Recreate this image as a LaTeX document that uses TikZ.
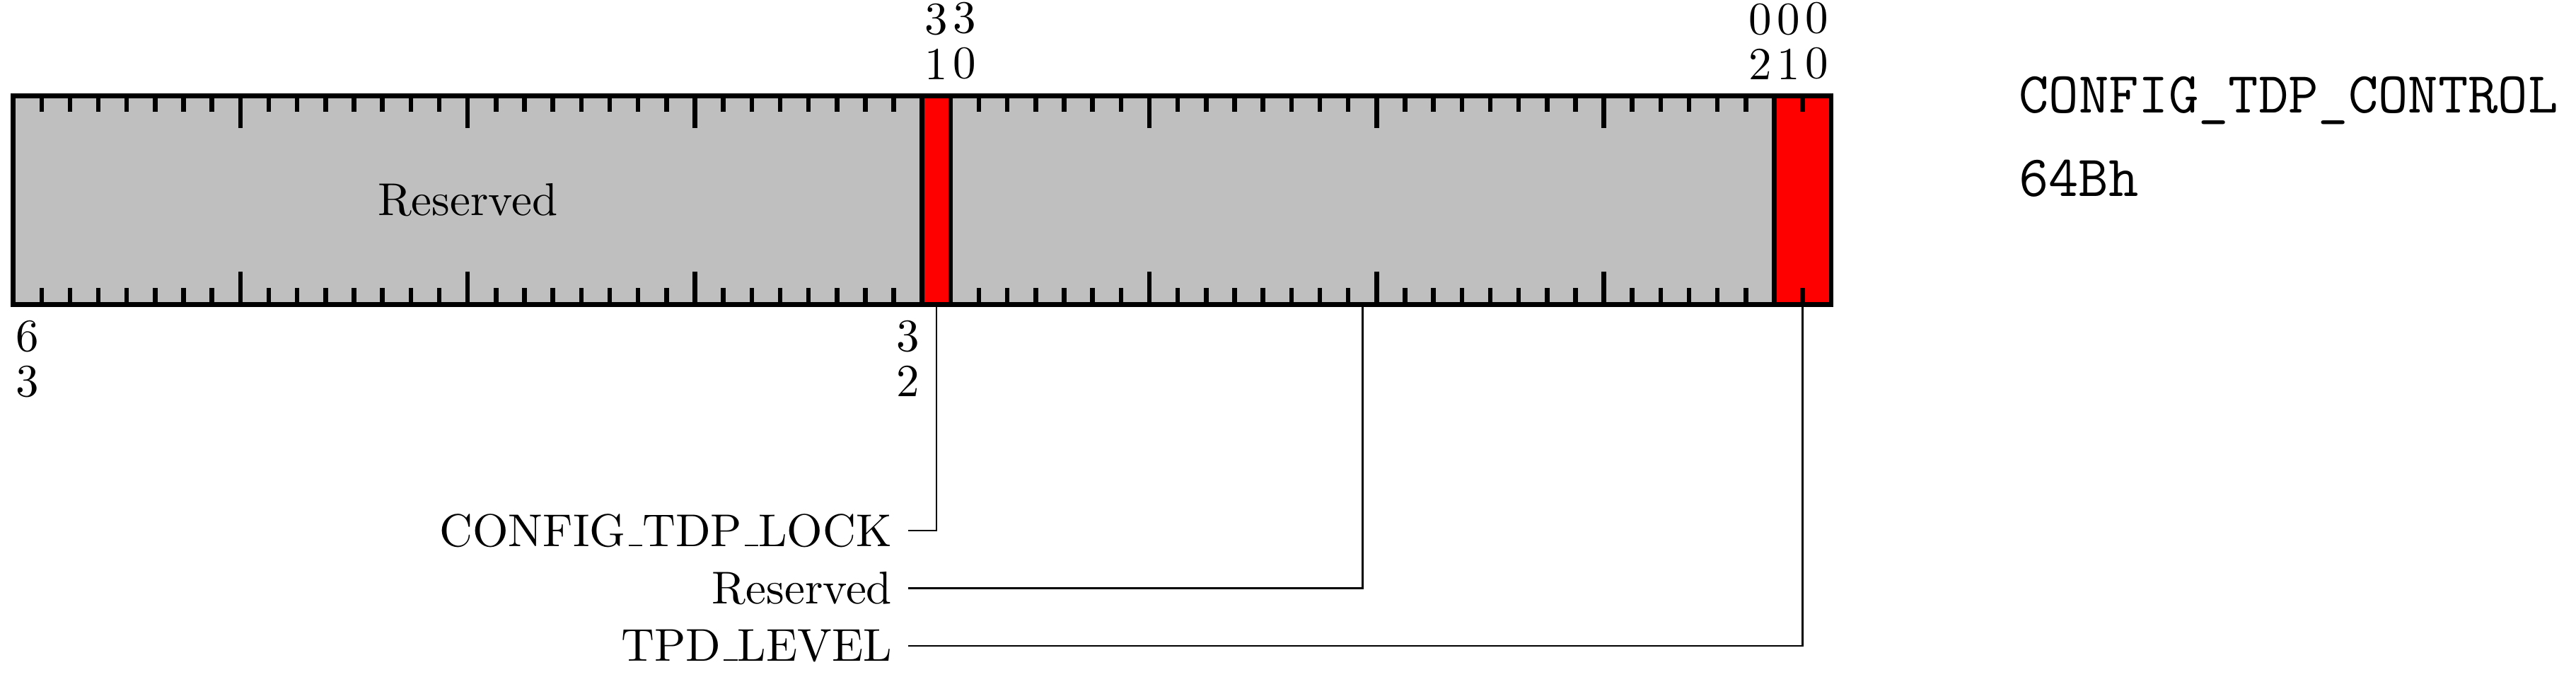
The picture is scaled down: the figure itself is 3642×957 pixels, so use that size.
\documentclass[tikz,border=0pt]{standalone}
\usetikzlibrary{calc}
\newcommand\us{\leavevmode\kern.06em\vbox{\hrule width.3em}}
\begin{document}
\begin{tikzpicture}[x=0.153846pt,y=-0.153846pt,
  border/.style={line width=1pt},
  tickmark/.style={line width=1pt},
  conn/.style={line width=0.4pt},
  toplbl/.style={anchor=south},
  botlbl/.style={anchor=north},
  fieldlbl/.style={anchor=east},
  titlelbl/.style={anchor=base west, inner sep=0pt, font=\fontsize{12.65}{15}\selectfont\ttfamily}]
\useasboundingbox (0,0) rectangle (3642,957);
\def\L{18.6}
\def\W{40.16}
\def\T{135.4}
\def\B{430.4}
% field fills
\fill[lightgray] (\L,\T) rectangle ({\L+32*\W},\B);
\fill[red] ({\L+32*\W},\T) rectangle ({\L+33*\W},\B);
\fill[lightgray] ({\L+33*\W},\T) rectangle ({\L+62*\W},\B);
\fill[red] ({\L+62*\W},\T) rectangle ({\L+64*\W},\B);
% ticks
\foreach \i in {1,...,63} {
  \pgfmathsetmacro\len{ifthenelse(mod(\i,8)==0,46,23)}
  \draw[tickmark] ({\L+\i*\W},\T) -- ++(0,\len);
  \draw[tickmark] ({\L+\i*\W},\B) -- ++(0,-\len);
}
% borders
\draw[border] (\L,\T) rectangle ({\L+64*\W},\B);
\draw[border] ({\L+32*\W},\T) -- ({\L+32*\W},\B);
\draw[border] ({\L+33*\W},\T) -- ({\L+33*\W},\B);
\draw[border] ({\L+62*\W},\T) -- ({\L+62*\W},\B);
% bit numbers
\node[toplbl] (t31) at ({\L+32.5*\W},\T) {\shortstack{3\\1}};
\node[toplbl] (t30) at ({\L+33.5*\W},\T) {\shortstack{3\\0}};
\node[toplbl] (t02) at ({\L+61.5*\W},\T) {\shortstack{0\\2}};
\node[toplbl] (t01) at ({\L+62.5*\W},\T) {\shortstack{0\\1}};
\node[toplbl] (t00) at ({\L+63.5*\W},\T) {\shortstack{0\\0}};
\node[botlbl] (b63) at ({\L+0.5*\W},\B) {\shortstack{6\\3}};
\node[botlbl] (b32) at ({\L+31.5*\W},\B) {\shortstack{3\\2}};
% field label inside
\node (res1) at ({\L+16*\W},282.9) {Reserved};
% connector origins
\coordinate (c1) at ({\L+32.5*\W},\B);
\coordinate (c2) at ({\L+47.5*\W},\B);
\coordinate (c3) at ({\L+63*\W},\B);
% field labels
\node[fieldlbl] (l1) at (1284,750) {CONFIG\us TDP\us LOCK};
\node[fieldlbl] (l2) at (1284,831.5) {Reserved};
\node[fieldlbl] (l3) at (1284,913) {TPD\us LEVEL};
\draw[conn] (c1) |- (l1.east);
\draw[conn] (c2) |- (l2.east);
\draw[conn] (c3) |- (l3.east);
% register name
\node[titlelbl] (title) at (2853,160) {CONFIG\_TDP\_CONTROL};
\node[titlelbl] (addr) at (2853,278) {64Bh};
\end{tikzpicture}
\end{document}
